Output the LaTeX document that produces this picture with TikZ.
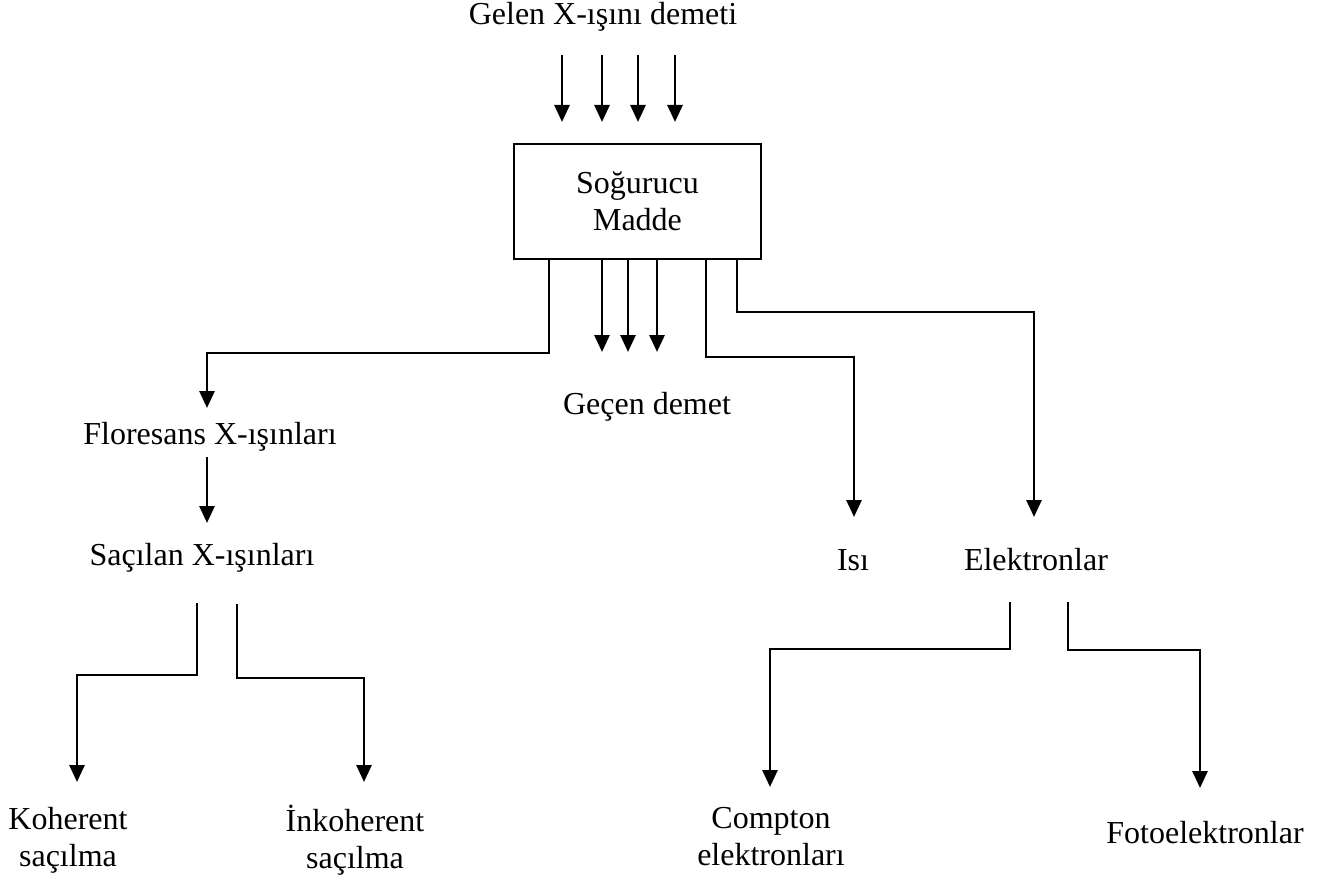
\documentclass[tikz,border=0pt]{standalone}
\usepackage{fontspec}
\setmainfont{Liberation Serif}
\usetikzlibrary{arrows.meta}
\tikzset{
  ln/.style={line width=2.8pt},
  arr/.style={ln,-{Triangle[length=17pt,width=15pt]}},
  lbl/.style={font=\fontsize{32}{37}\selectfont, inner sep=0pt, align=center},
}
\begin{document}
\begin{tikzpicture}[x=1pt,y=-1pt]
\useasboundingbox (0,0) rectangle (1339,880);
% nodes
\node[lbl] (title) at (603,17) {Gelen X-ışını demeti};
\node[lbl, draw, ln, minimum width=247pt, minimum height=115pt] (box) at (637.5,201.5) {Soğurucu\\Madde};
\node[lbl] (gecen) at (647,407) {Geçen demet};
\node[lbl] (flor) at (210,437) {Floresans X-ışınları};
\node[lbl] (sac) at (202,558) {Saçılan X-ışınları};
\node[lbl] (isi) at (853,560) {Isı};
\node[lbl] (elek) at (1036,560) {Elektronlar};
\node[lbl] (koh) at (68,840) {Koherent\\saçılma};
\node[lbl] (inkoh) at (355,840) {İnkoherent\\saçılma};
\node[lbl] (comp) at (771,837) {Compton\\elektronları};
\node[lbl] (foto) at (1205,833) {Fotoelektronlar};
% coordinates
\coordinate (i1) at (562,55);  \coordinate (i1e) at (562,122);
\coordinate (i2) at (602,55);  \coordinate (i2e) at (602,122);
\coordinate (i3) at (638,55);  \coordinate (i3e) at (638,122);
\coordinate (i4) at (675,55);  \coordinate (i4e) at (675,122);
\coordinate (xL) at (549,0);
\coordinate (xG1) at (602,0);
\coordinate (xG2) at (628,0);
\coordinate (xG3) at (657,0);
\coordinate (xI) at (706,0);
\coordinate (xE) at (737,0);
\coordinate (tG1) at (602,352);
\coordinate (tG2) at (628,352);
\coordinate (tG3) at (657,352);
\coordinate (hL) at (207,353);
\coordinate (tF) at (207,408);
\coordinate (hI) at (854,357);
\coordinate (tI) at (854,517);
\coordinate (hE) at (1034,312);
\coordinate (tE) at (1034,517);
\coordinate (fS) at (207,457);
\coordinate (tS) at (207,523);
\coordinate (s1) at (197,603); \coordinate (s1h) at (77,675); \coordinate (s1t) at (77,782);
\coordinate (s2) at (237,604); \coordinate (s2h) at (364,678); \coordinate (s2t) at (364,782);
\coordinate (e1) at (1010,602); \coordinate (e1h) at (770,649); \coordinate (e1t) at (770,787);
\coordinate (e2) at (1068,602); \coordinate (e2h) at (1200,650); \coordinate (e2t) at (1200,788);
% incoming beam
\draw[arr] (i1) -- (i1e);
\draw[arr] (i2) -- (i2e);
\draw[arr] (i3) -- (i3e);
\draw[arr] (i4) -- (i4e);
% transmitted beam
\draw[arr] (box.south -| xG1) -- (tG1);
\draw[arr] (box.south -| xG2) -- (tG2);
\draw[arr] (box.south -| xG3) -- (tG3);
% fluorescence
\draw[arr] (box.south -| xL) |- (hL) -- (tF);
% heat
\draw[arr] (box.south -| xI) |- (hI) -- (tI);
% electrons
\draw[arr] (box.south -| xE) |- (hE) -- (tE);
% fluorescence -> scattered
\draw[arr] (fS) -- (tS);
% scattered branches
\draw[arr] (s1) |- (s1h) -- (s1t);
\draw[arr] (s2) |- (s2h) -- (s2t);
% electron branches
\draw[arr] (e1) |- (e1h) -- (e1t);
\draw[arr] (e2) |- (e2h) -- (e2t);
\end{tikzpicture}
\end{document}
